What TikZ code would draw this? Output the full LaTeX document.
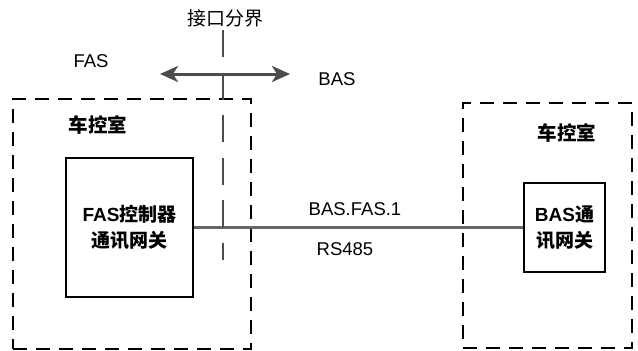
\documentclass[tikz,border=0pt]{standalone}
\usepackage{fontspec}
\setmainfont{Liberation Sans}
\newfontfamily\cjk{Noto Sans CJK SC}
\usetikzlibrary{arrows.meta}
\begin{document}
\begin{tikzpicture}[x=1pt,y=-1pt,
  room/.style={draw=black, line width=1.4pt, dash pattern=on 14pt off 9pt, minimum width=#1},
  devbox/.style={draw=black, line width=1.3pt, align=center, inner sep=0pt, font=\fontsize{19}{26}\selectfont\bfseries},
  lbl/.style={font=\fontsize{18.5}{20}\selectfont, inner sep=0pt},
  roomlbl/.style={font=\cjk\bfseries\fontsize{19.5}{20}\selectfont, inner sep=0pt},
  wire/.style={draw=black!60, line width=2.2pt}]
\useasboundingbox (0,0) rectangle (638,351);
% rooms
\node[room=238pt, minimum height=250pt] (lroom) at (132,224) {};
\node[room=169pt, minimum height=245pt] (rroom) at (547.5,225.5) {};
\node[roomlbl] (lrl) at (98,125) {车控室};
\node[roomlbl] (rrl) at (567,133) {车控室};
% devices
\node[devbox, minimum width=127pt, minimum height=139pt] (fas) at (129.5,227.5)
  {FAS{\cjk 控制器}\\{\cjk 通讯网关}};
\node[devbox, minimum width=81pt, minimum height=89pt] (bas) at (564.5,227.5)
  {BAS{\cjk 通}\\{\cjk 讯网关}};
% connection
\draw[wire] (fas.east) -- (bas.west);
\node[lbl] (l1) at (355,209) {BAS.FAS.1};
\node[lbl] (l2) at (345,249) {RS485};
% interface boundary
\coordinate (itop) at (223,30);
\coordinate (ibot) at (223,260);
\draw[black!70, line width=2pt, dash pattern=on 27pt off 15.5pt] (itop) -- (ibot);
\node[lbl, font=\cjk\fontsize{19}{20}\selectfont] (ifl) at (225,18) {接口分界};
\coordinate (al) at (160,74);
\coordinate (ar) at (290,74);
\draw[black!70, line width=3pt, {Stealth[length=18pt,width=16pt,inset=5pt]}-{Stealth[length=18pt,width=16pt,inset=5pt]}] (al) -- (ar);
\node[lbl] (fasl) at (91,61) {FAS};
\node[lbl] (basl) at (337,79) {BAS};
\end{tikzpicture}
\end{document}
